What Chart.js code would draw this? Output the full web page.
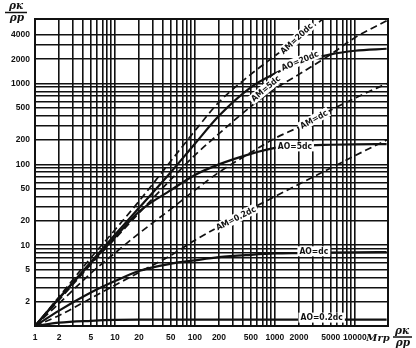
<!DOCTYPE html>
<html>
<head>
<meta charset="utf-8">
<script src="https://cdn.jsdelivr.net/npm/chart.js@4.4.1/dist/chart.umd.min.js"></script>
<style>
  html, body { margin: 0; padding: 0; background: #fff; }
</style>
</head>
<body>
<canvas id="chart" width="416" height="348"></canvas>
<script>
// mu values where every curve is sampled
const mu = [1, 2, 5, 10, 20, 50, 100, 200, 500, 1000, 2000, 5000, 10000, 25000];

// solid curves (AO spacing)
const ao02 = [1, 1.1, 1.16, 1.19, 1.2, 1.2, 1.2, 1.2, 1.2, 1.2, 1.2, 1.2, 1.2, 1.2];
const ao1 = [1, 1.55, 2.6, 3.6, 4.8, 5.9, 6.5, 7.1, 7.6, 7.9, 8.0, 8.1, 8.15, 8.2];
const ao5 = [1, 2.2, 6, 12.5, 26, 48, 74, 100, 135, 160, 170, 175, 177, 178];
const ao20 = [1, 2.2, 6.2, 13.5, 29, 80, 180, 400, 900, 1330, 1800, 2300, 2550, 2700];

// dashed curves (AM spacing)
const am02 = [1, 1.35, 2.2, 3.2, 4.6, 7.5, 11.5, 17, 28, 40, 57, 90, 128, 200];
const am1 = [1, 1.9, 4.5, 8, 14, 28, 48, 80, 140, 210, 290, 470, 660, 1000];
const am5 = [1, 2.1, 5.8, 12, 25, 65, 130, 240, 520, 860, 1300, 2300, 3700, 6000];
const am20 = [1, 2.3, 7, 15.5, 35, 110, 260, 590, 1300, 2200, 3700, 7500, null, null];

// axis ticks: grid at every 1..9 step, text only on some
const xGrid = [1, 2, 3, 4, 5, 6, 7, 8, 9, 10, 20, 30, 40, 50, 60, 70, 80, 90,
  100, 200, 300, 400, 500, 600, 700, 800, 900, 1000, 2000, 3000, 4000, 5000,
  6000, 7000, 8000, 9000, 10000];
const xLabels = [1, 2, 5, 10, 20, 50, 100, 200, 500, 1000, 2000, 5000, 10000];
const yGrid = [1, 2, 3, 4, 5, 6, 7, 8, 9, 10, 20, 30, 40, 50, 60, 70, 80, 90,
  100, 200, 300, 400, 500, 600, 700, 800, 900, 1000, 2000, 3000, 4000];
const yLabels = [2, 5, 10, 20, 50, 100, 200, 500, 1000, 2000, 4000];

// curve captions, anchored in data units
const captions = [
  { text: 'AM=20dc', x: 1870, y: 3600, angle: -43 },
  { text: 'AO=20dc', x: 2060, y: 1915, angle: -22 },
  { text: 'AM=5dc', x: 770, y: 870, angle: -40 },
  { text: 'AM=dc', x: 3070, y: 360, angle: -29 },
  { text: 'AO=5dc', x: 1780, y: 167, angle: 0 },
  { text: 'AM=0.2dc', x: 325, y: 21.5, angle: -27 },
  { text: 'AO=dc', x: 3070, y: 8.4, angle: 0 },
  { text: 'AO=0.2dc', x: 3850, y: 1.27, angle: 0 }
];

const INK = '#111';

function series(values, dashed) {
  return {
    data: mu.map((m, i) => ({ x: m, y: values[i] })),
    borderColor: INK,
    borderWidth: dashed ? 1.7 : 2.2,
    borderDash: dashed ? [7, 4] : [],
    pointRadius: 0,
    fill: false,
    cubicInterpolationMode: 'monotone'
  };
}

// frame, curve captions and the two axis fractions
const decorations = {
  id: 'decorations',
  afterDatasetsDraw(chart) {
    const { ctx, chartArea: a, scales } = chart;
    ctx.save();
    ctx.strokeStyle = INK;
    ctx.lineWidth = 2;
    ctx.strokeRect(a.left, a.top, a.right - a.left, a.bottom - a.top);

    ctx.font = 'bold 8.5px "DejaVu Sans Condensed", "DejaVu Sans", sans-serif';
    ctx.textAlign = 'center';
    ctx.textBaseline = 'middle';
    for (const c of captions) {
      const px = scales.x.getPixelForValue(c.x);
      const py = scales.y.getPixelForValue(c.y);
      const w = ctx.measureText(c.text).width;
      ctx.save();
      ctx.translate(px, py);
      ctx.rotate(c.angle * Math.PI / 180);
      ctx.fillStyle = '#fff';
      ctx.fillRect(-w / 2 - 2, -5, w + 4, 10);
      ctx.fillStyle = INK;
      ctx.fillText(c.text, 0, 0.5);
      ctx.restore();
    }
    ctx.restore();
  },
  afterDraw(chart) {
    const { ctx } = chart;
    ctx.save();
    ctx.fillStyle = INK;
    ctx.strokeStyle = INK;
    ctx.lineWidth = 1.5;
    ctx.textAlign = 'center';
    ctx.textBaseline = 'middle';
    ctx.font = 'bold italic 10.5px "DejaVu Serif", serif';

    // y title
    ctx.fillText('ρк', 16, 6);
    ctx.beginPath(); ctx.moveTo(5, 12.5); ctx.lineTo(27, 12.5); ctx.stroke();
    ctx.fillText('ρр', 17, 18);

    // x title
    ctx.font = 'bold italic 10px "DejaVu Serif", serif';
    ctx.fillText('Mrp', 378, 338);
    ctx.font = 'bold italic 10.5px "DejaVu Serif", serif';
    ctx.fillText('ρк', 402, 331);
    ctx.beginPath(); ctx.moveTo(393, 337); ctx.lineTo(412, 337); ctx.stroke();
    ctx.fillText('ρр', 403, 343);
    ctx.restore();
  }
};

const tickFont = { family: '"Liberation Sans", Arial, sans-serif', size: 8.5, weight: 'bold' };

new Chart(document.getElementById('chart'), {
  type: 'line',
  data: {
    datasets: [
      series(ao02, false),
      series(ao1, false),
      series(ao5, false),
      series(ao20, false),
      series(am02, true),
      series(am1, true),
      series(am5, true),
      series(am20, true)
    ]
  },
  options: {
    responsive: false,
    animation: false,
    devicePixelRatio: 1,
    layout: { padding: { top: 19, right: 28, left: 0, bottom: 0 } },
    plugins: { legend: { display: false }, tooltip: { enabled: false } },
    scales: {
      x: {
        type: 'logarithmic',
        min: 1,
        max: 26000,
        afterBuildTicks: (scale) => { scale.ticks = xGrid.map(v => ({ value: v })); },
        afterFit: (scale) => { scale.height = 22; },
        grid: { color: INK, lineWidth: 1.6, drawTicks: false },
        border: { display: false },
        ticks: {
          color: INK,
          font: tickFont,
          padding: 7,
          autoSkip: false,
          maxRotation: 0,
          minRotation: 0,
          callback: (v) => xLabels.includes(v) ? String(v) : ''
        }
      },
      y: {
        type: 'logarithmic',
        min: 1,
        max: 6300,
        afterBuildTicks: (scale) => { scale.ticks = yGrid.map(v => ({ value: v })); },
        afterFit: (scale) => { scale.width = 35; },
        grid: { color: INK, lineWidth: 1.6, drawTicks: false },
        border: { display: false },
        ticks: {
          color: INK,
          font: tickFont,
          padding: 5,
          autoSkip: false,
          callback: (v) => yLabels.includes(v) ? String(v) : ''
        }
      }
    }
  },
  plugins: [decorations]
});
</script>
</body>
</html>
